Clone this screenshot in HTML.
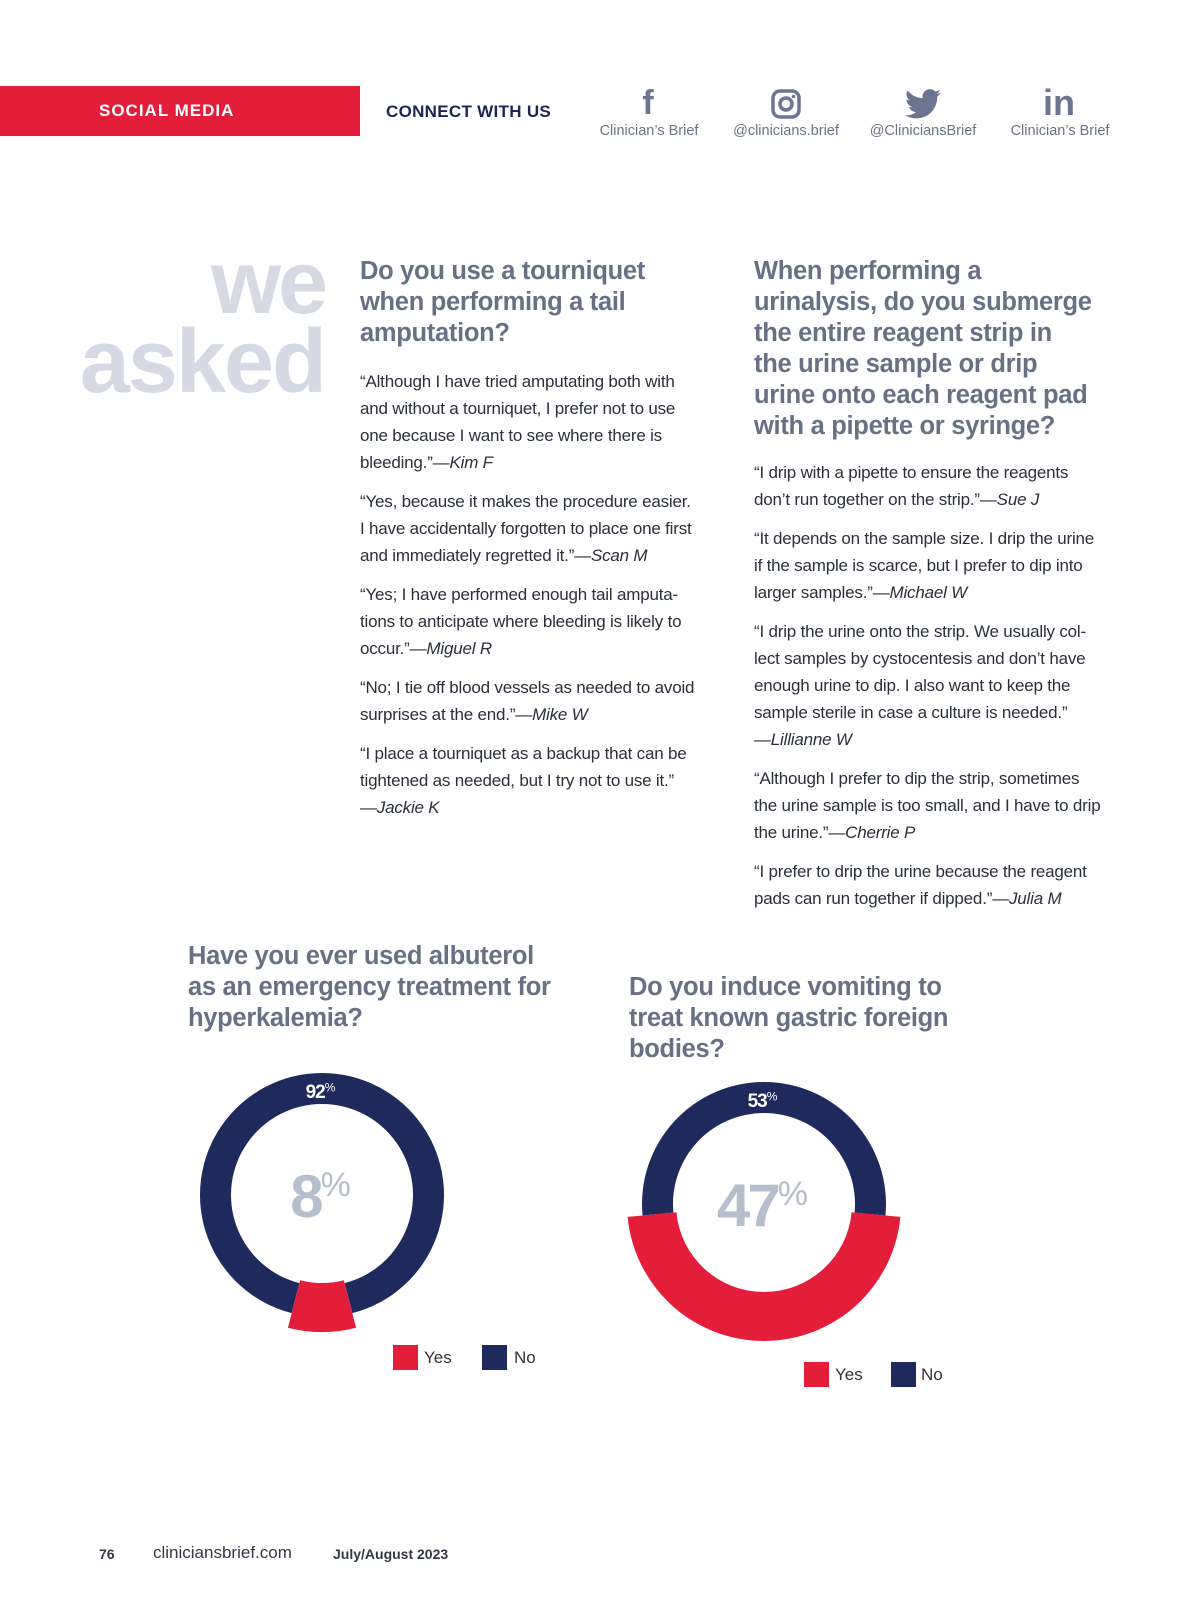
<!DOCTYPE html>
<html><head><meta charset="utf-8">
<style>
*{margin:0;padding:0;box-sizing:border-box}
body{width:1200px;height:1606px;background:#fff;position:relative;overflow:hidden;font-family:"Liberation Sans",sans-serif;color:#333845}
.a{position:absolute;white-space:nowrap}
.title{font-family:"Liberation Sans",sans-serif;font-weight:bold;color:#687083;font-size:25.5px;line-height:31px;letter-spacing:-0.3px}
.body{font-size:17px;line-height:27px;color:#2a2f3a;letter-spacing:-0.2px}
.body p{margin-bottom:12px}
.body i{font-style:italic}
.icon{color:#6b7491;font-family:"Liberation Sans",sans-serif;font-weight:bold;text-align:center}
.lbl{font-size:14.5px;color:#6b7385;text-align:center;width:140px}
.sw{position:absolute;width:25px;height:25px}
.lg{position:absolute;font-size:17px;color:#333}
</style></head><body>
<div class="a" style="left:0;top:86px;width:360px;height:50px;background:#e41d3b"></div>
<div class="a" style="left:99px;top:101px;font-weight:bold;font-size:17px;letter-spacing:1px;color:#fff">SOCIAL MEDIA</div>
<div class="a" style="left:386px;top:102px;font-weight:bold;font-size:17px;color:#1d2551;letter-spacing:0.3px">CONNECT WITH US</div>

<div class="a icon" style="left:628px;top:84px;width:40px;font-size:34px">f</div>
<div class="a lbl" style="left:579px;top:123px">Clinician’s Brief</div>
<svg class="a" style="left:771px;top:89px" width="30" height="30" viewBox="0 0 30 30"><rect x="2" y="2" width="26" height="26" rx="7" fill="none" stroke="#6b7491" stroke-width="3.5"/><circle cx="15" cy="15" r="6" fill="none" stroke="#6b7491" stroke-width="3.5"/><circle cx="22.5" cy="7.5" r="1.8" fill="#6b7491"/></svg>
<div class="a lbl" style="left:716px;top:123px">@clinicians.brief</div>
<svg class="a" style="left:905px;top:89px" width="36" height="30" viewBox="0 0 24 20"><path d="M24 2.4a10 10 0 0 1-2.8.8 4.9 4.9 0 0 0 2.1-2.7 9.8 9.8 0 0 1-3.1 1.2A4.9 4.9 0 0 0 11.8 6.1 14 14 0 0 1 1.7 1a4.9 4.9 0 0 0 1.5 6.6A4.9 4.9 0 0 1 1 7v.1a4.9 4.9 0 0 0 3.9 4.8 4.9 4.9 0 0 1-2.2.1 4.9 4.9 0 0 0 4.6 3.4A9.9 9.9 0 0 1 0 17.4 14 14 0 0 0 7.5 19.6c9.1 0 14-7.5 14-14v-.6A10 10 0 0 0 24 2.4z" fill="#6b7491"/></svg>
<div class="a lbl" style="left:853px;top:123px">@CliniciansBrief</div>
<div class="a icon" style="left:1039px;top:82px;width:40px;font-size:36px">in</div>
<div class="a lbl" style="left:990px;top:123px">Clinician’s Brief</div>

<div class="a" style="right:875px;top:238px;font-weight:bold;font-size:90px;line-height:90px;color:#d6d9e4;letter-spacing:-3px">we</div>
<div class="a" style="right:875px;top:317px;font-weight:bold;font-size:90px;line-height:90px;color:#d6d9e4;letter-spacing:-2px">asked</div>

<div class="a title" style="left:360px;top:256px">Do you use a tourniquet<br>when performing a tail<br>amputation?</div>
<div class="a body" style="left:360px;top:368px">
<p>“Although I have tried amputating both with<br>and without a tourniquet, I prefer not to use<br>one because I want to see where there is<br>bleeding.”<i>—Kim F</i></p>
<p>“Yes, because it makes the procedure easier.<br>I have accidentally forgotten to place one first<br>and immediately regretted it.”<i>—Scan M</i></p>
<p>“Yes; I have performed enough tail amputa-<br>tions to anticipate where bleeding is likely to<br>occur.”<i>—Miguel R</i></p>
<p>“No; I tie off blood vessels as needed to avoid<br>surprises at the end.”<i>—Mike W</i></p>
<p>“I place a tourniquet as a backup that can be<br>tightened as needed, but I try not to use it.”<br><i>—Jackie K</i></p>
</div>

<div class="a title" style="left:754px;top:256px">When performing a<br>urinalysis, do you submerge<br>the entire reagent strip in<br>the urine sample or drip<br>urine onto each reagent pad<br>with a pipette or syringe?</div>
<div class="a body" style="left:754px;top:459px">
<p>“I drip with a pipette to ensure the reagents<br>don’t run together on the strip.”<i>—Sue J</i></p>
<p>“It depends on the sample size. I drip the urine<br>if the sample is scarce, but I prefer to dip into<br>larger samples.”<i>—Michael W</i></p>
<p>“I drip the urine onto the strip. We usually col-<br>lect samples by cystocentesis and don’t have<br>enough urine to dip. I also want to keep the<br>sample sterile in case a culture is needed.”<br><i>—Lillianne W</i></p>
<p>“Although I prefer to dip the strip, sometimes<br>the urine sample is too small, and I have to drip<br>the urine.”<i>—Cherrie P</i></p>
<p>“I prefer to drip the urine because the reagent<br>pads can run together if dipped.”<i>—Julia M</i></p>
</div>

<div class="a title" style="left:188px;top:941px">Have you ever used albuterol<br>as an emergency treatment for<br>hyperkalemia?</div>
<div class="a title" style="left:629px;top:972px">Do you induce vomiting to<br>treat known gastric foreign<br>bodies?</div>

<svg class="a" id="charts" style="left:0;top:0" width="1200" height="1606"></svg>

<div class="sw" style="left:393px;top:1345px;background:#e41d3b"></div>
<div class="lg" style="left:424px;top:1348px">Yes</div>
<div class="sw" style="left:482px;top:1345px;background:#1e2a5c"></div>
<div class="lg" style="left:514px;top:1348px">No</div>
<div class="sw" style="left:804px;top:1362px;background:#e41d3b"></div>
<div class="lg" style="left:835px;top:1365px">Yes</div>
<div class="sw" style="left:891px;top:1362px;background:#1e2a5c"></div>
<div class="lg" style="left:921px;top:1365px">No</div>

<div class="a" style="left:99px;top:1546px;font-weight:bold;font-size:14px">76</div>
<div class="a" style="left:153px;top:1543px;font-size:17px">cliniciansbrief.com</div>
<div class="a" style="left:333px;top:1546px;font-weight:bold;font-size:14px">July/August 2023</div>

<script>
const chartNames = ["albuterol", "vomiting"];
const yesValues = [8, 47];
const noValues = [92, 53];
const centersX = [322, 764];
const centersY = [1195, 1204];
const R = 122, r = 91, RX = 137;
const svg = document.getElementById('charts');
const NS = 'http://www.w3.org/2000/svg';
function pt(cx, cy, rad, deg) { const a = (deg - 90) * Math.PI / 180; return [cx + rad * Math.cos(a), cy + rad * Math.sin(a)]; }
function arc(cx, cy, ro, ri, a0, a1) {
  const big = (a1 - a0) > 180 ? 1 : 0;
  const p0 = pt(cx, cy, ro, a0), p1 = pt(cx, cy, ro, a1), p2 = pt(cx, cy, ri, a1), p3 = pt(cx, cy, ri, a0);
  return `M${p0[0]},${p0[1]} A${ro},${ro} 0 ${big} 1 ${p1[0]},${p1[1]} L${p2[0]},${p2[1]} A${ri},${ri} 0 ${big} 0 ${p3[0]},${p3[1]} Z`;
}
function txt(x, y, s, size, fill, name, pctSize, ls) {
  const t = document.createElementNS(NS, 'text');
  t.setAttribute('x', x); t.setAttribute('y', y); t.setAttribute('text-anchor', 'middle');
  t.setAttribute('font-family', 'Liberation Sans, sans-serif');
  t.setAttribute('font-weight', 'bold'); t.setAttribute('font-size', size); t.setAttribute('fill', fill);
  t.setAttribute('letter-spacing', ls);
  
  
  t.textContent = s;
  const sp = document.createElementNS(NS, 'tspan');
  sp.setAttribute('font-size', pctSize); sp.setAttribute('font-weight', 'normal');
  sp.setAttribute('dy', -size * 0.35);
  sp.textContent = '%';
  t.appendChild(sp);
  svg.appendChild(t);
}
chartNames.forEach((n, i) => {
  const cx = centersX[i], cy = centersY[i];
  const total = yesValues[i] + noValues[i];
  const yesDeg = yesValues[i] / total * 360;
  const s = 180 - yesDeg / 2, e = 180 + yesDeg / 2;
  const no = document.createElementNS(NS, 'path');
  no.setAttribute('d', arc(cx, cy, R, r, e, s + 360));
  no.setAttribute('fill', '#1e2a5c');
  
  
  svg.appendChild(no);
  const yes = document.createElementNS(NS, 'path');
  yes.setAttribute('d', arc(cx, cy, RX, r - 3, s, e));
  yes.setAttribute('fill', '#e41d3b');
  
  
  svg.appendChild(yes);
  txt(cx - 2, cy - R + 25, String(noValues[i]), 19, '#fff', 'donut-' + n + '-no-value', 12, -1);
  txt(cx - 3, cy + 22, String(yesValues[i]), 60, '#b6bdcc', 'donut-' + n + '-yes-value', 34, -3);
});
</script>
</body></html>
